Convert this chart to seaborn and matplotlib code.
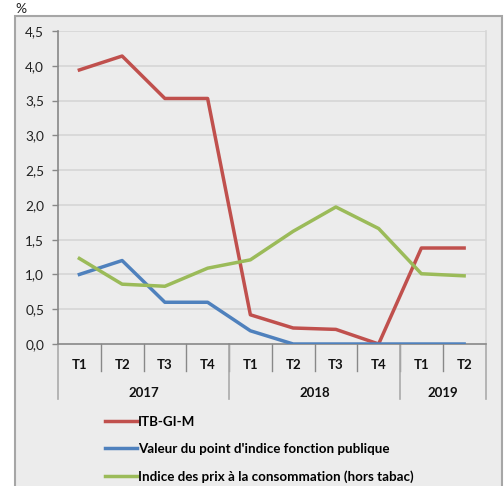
import matplotlib
matplotlib.use("Agg")
import matplotlib.pyplot as plt
from matplotlib.patches import Rectangle
import seaborn as sns
import pandas as pd

# ---- data ----
quarters = ["T1", "T2", "T3", "T4", "T1", "T2", "T3", "T4", "T1", "T2"]
years = ["2017", "2018", "2019"]
year_counts = [4, 4, 2]
series_names = [
    "ITB-GI-M",
    "Valeur du point d'indice fonction publique",
    "Indice des prix à la consommation (hors tabac)",
]
itb = [3.94, 4.14, 3.53, 3.53, 0.42, 0.23, 0.21, 0.0, 1.38, 1.38]
point_indice = [1.0, 1.2, 0.6, 0.6, 0.19, 0.0, 0.0, 0.0, 0.0, 0.0]
ipc = [1.23, 0.86, 0.83, 1.09, 1.21, 1.62, 1.97, 1.66, 1.01, 0.98]
colors = ["#c0504d", "#4f81bd", "#9bbb59"]
yticks = [0.0, 0.5, 1.0, 1.5, 2.0, 2.5, 3.0, 3.5, 4.0, 4.5]

rows = []
for name, vals in zip(series_names, [itb, point_indice, ipc]):
    for i, v in enumerate(vals):
        rows.append({"pos": i, "value": v, "serie": name})
df = pd.DataFrame(rows)

plt.rcParams["font.family"] = ["Lato", "DejaVu Sans"]

fig = plt.figure(figsize=(5.04, 4.86), dpi=100)
fig.patch.set_facecolor("white")

# outer panel
panel = Rectangle((15 / 504, -0.02), (501.5 - 15) / 504, 1 - 16 / 486 + 0.02,
                  transform=fig.transFigure, facecolor="#ececec",
                  edgecolor="#a6a6a6", linewidth=1.5, zorder=-10)
fig.patches.append(panel)

ax = fig.add_axes([58 / 504, 1 - 344 / 486, (485.5 - 58) / 504, (344 - 31) / 486])
ax.set_zorder(1)
ax.set_facecolor("#ececec")

sns.lineplot(data=df, x="pos", y="value", hue="serie", hue_order=series_names,
             palette=colors, linewidth=2.5, sort=False, ax=ax, legend=True,
             zorder=3)

ax.set_xlim(-0.5, len(quarters) - 0.5)
ax.set_ylim(0, 4.5)
ax.set_yticks(yticks)
ax.set_yticklabels([f"{v:.1f}".replace(".", ",") for v in yticks],
                   fontsize=9.8, color="#222222")
ax.tick_params(axis="y", length=4, color="#888888", width=1, pad=6)
ax.set_xticks([])
ax.set_xlabel("")
ax.set_ylabel("")
for y in yticks[1:]:
    ax.axhline(y, color="#d6d6d6", linewidth=1.2, zorder=1)

ax.spines["top"].set_visible(False)
ax.spines["right"].set_color("#d6d6d6")
ax.spines["right"].set_linewidth(1.2)
ax.spines["left"].set_color("#888888")
ax.spines["left"].set_linewidth(1.2)
ax.spines["bottom"].set_color("#888888")
ax.spines["bottom"].set_linewidth(1.2)

tr = ax.get_xaxis_transform()
# quarter labels and inner separators
for i, q in enumerate(quarters):
    ax.text(i, -0.068, q, transform=tr, ha="center", va="center",
            fontsize=9.5, fontweight="bold", color="#111111")
for b in range(1, len(quarters)):
    ax.plot([b - 0.5, b - 0.5], [0, -0.086], transform=tr, color="#888888",
            linewidth=1, clip_on=False)
# year labels and separators
start = 0
bounds = [-0.5]
for yname, cnt in zip(years, year_counts):
    center = start + (cnt - 1) / 2
    ax.text(center, -0.156, yname, transform=tr, ha="center", va="center",
            fontsize=9.5, fontweight="bold", color="#111111")
    start += cnt
    bounds.append(start - 0.5)
for b in bounds:
    ax.plot([b, b], [0, -0.176], transform=tr, color="#aaaaaa",
            linewidth=1.2, clip_on=False)

# percent label
fig.text(15 / 504, 1 - 9 / 486, "%", ha="left", va="center", fontsize=10,
         color="#222222")

handles, labels = ax.get_legend_handles_labels()
ax.legend(handles, labels, loc="upper left",
          bbox_to_anchor=(105 / 504, 1 - 415.5 / 486),
          bbox_transform=fig.transFigure, frameon=False,
          prop={"size": 9.6, "weight": "bold"}, handlelength=2.4,
          handletextpad=0.08, labelspacing=1.16, borderpad=0, borderaxespad=0)

fig.savefig("out.png", dpi=100, facecolor=fig.get_facecolor())
